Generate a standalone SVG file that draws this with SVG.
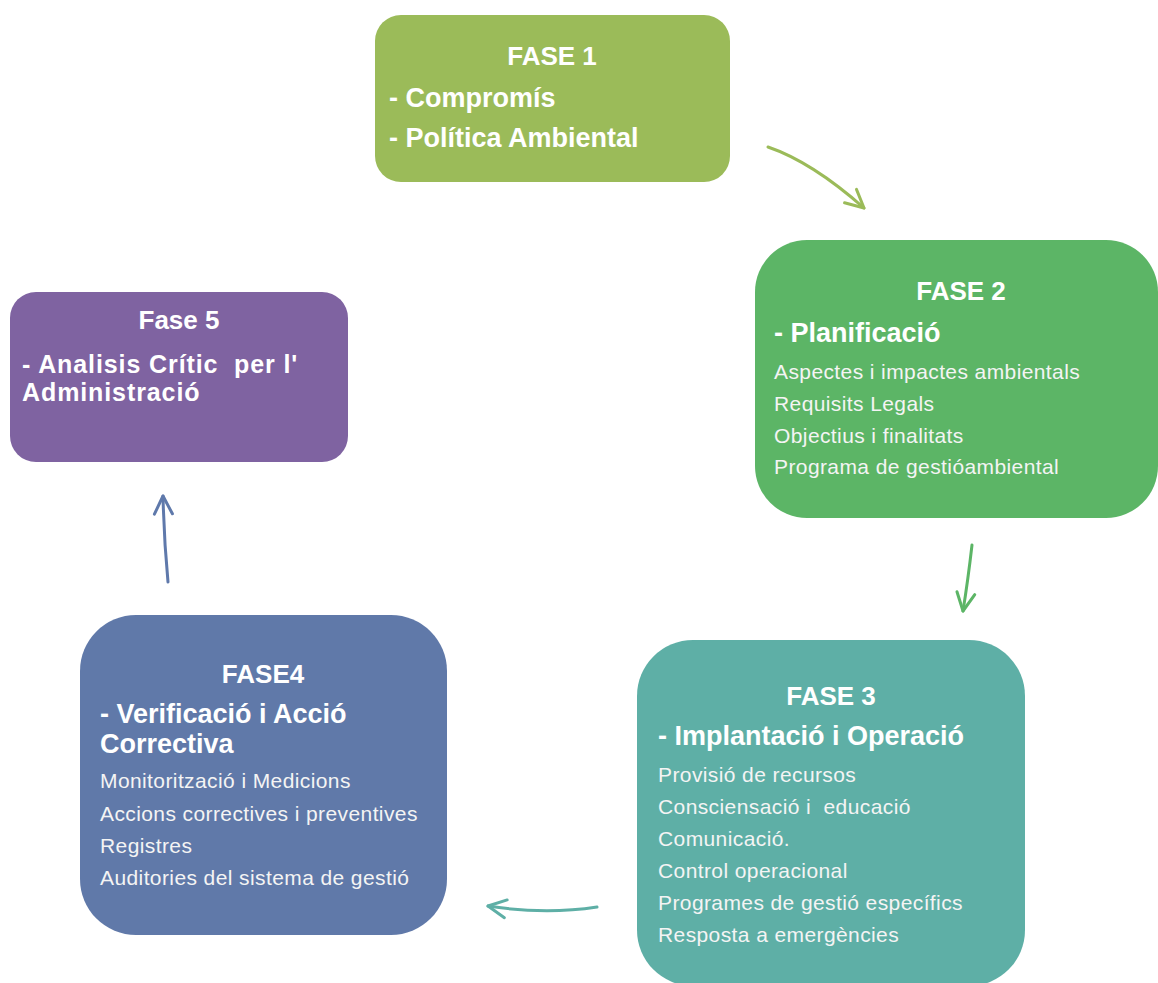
<svg xmlns="http://www.w3.org/2000/svg" width="1158" height="983" viewBox="0 0 1158 983">
  <style>
    text { font-family: "Liberation Sans", Arial, sans-serif; fill: #ffffff; white-space: pre; }
    .title { font-size: 26px; font-weight: bold; text-anchor: middle; }
    .head { font-size: 27px; font-weight: bold; }
    .head-tight { font-size: 25px; font-weight: bold; letter-spacing: 0.9px; }
    .item { font-size: 21px; letter-spacing: 0.4px; fill: #f4f4f4; }
    .arrow { fill: none; stroke-width: 3; stroke-linecap: round; }
    .chev { fill: none; stroke-width: 3; stroke-linecap: round; stroke-linejoin: round; }
  </style>
  <defs>
    <marker id="head-lime" markerUnits="userSpaceOnUse" viewBox="-24 -14 30 28" markerWidth="30" markerHeight="28" refX="0" refY="0" orient="auto" overflow="visible">
      <path class="chev" d="M-18,-9 L0,0 L-18,9" stroke="#9bbb59"/>
    </marker>
    <marker id="head-green" markerUnits="userSpaceOnUse" viewBox="-24 -14 30 28" markerWidth="30" markerHeight="28" refX="0" refY="0" orient="auto" overflow="visible">
      <path class="chev" d="M-18,-9 L0,0 L-18,9" stroke="#5cb566"/>
    </marker>
    <marker id="head-teal" markerUnits="userSpaceOnUse" viewBox="-24 -14 30 28" markerWidth="30" markerHeight="28" refX="0" refY="0" orient="auto" overflow="visible">
      <path class="chev" d="M-18,-9 L0,0 L-18,9" stroke="#5eafa6"/>
    </marker>
    <marker id="head-blue" markerUnits="userSpaceOnUse" viewBox="-24 -14 30 28" markerWidth="30" markerHeight="28" refX="0" refY="0" orient="auto" overflow="visible">
      <path class="chev" d="M-18,-9 L0,0 L-18,9" stroke="#5f79ab"/>
    </marker>
  </defs>

  <rect width="1158" height="983" fill="#ffffff"/>

  <!-- connectors -->
  <g id="connectors">
    <path class="arrow" stroke="#9bbb59" d="M768,147 Q812,162 864,208" marker-end="url(#head-lime)"/>
    <path class="arrow" stroke="#5cb566" d="M972,545 Q968,580 963,611" marker-end="url(#head-green)"/>
    <path class="arrow" stroke="#5eafa6" d="M597,907 Q545,915 488,906" marker-end="url(#head-teal)"/>
    <path class="arrow" stroke="#5f79ab" d="M168,582 Q164,540 163,496" marker-end="url(#head-blue)"/>
  </g>

  <!-- phase 1 -->
  <g id="fase1">
    <rect x="375" y="15" width="355" height="167" rx="26" ry="26" fill="#9bbb59"/>
    <text class="title" x="552" y="65">FASE 1</text>
    <text class="head" x="389" y="107">- Compromís</text>
    <text class="head" x="389" y="147">- Política Ambiental</text>
  </g>

  <!-- phase 2 -->
  <g id="fase2">
    <rect x="755" y="240" width="403" height="278" rx="52" ry="52" fill="#5cb566"/>
    <text class="title" x="961" y="300">FASE 2</text>
    <text class="head" x="774" y="342">- Planificació</text>
    <text class="item" x="774" y="379">Aspectes i impactes ambientals</text>
    <text class="item" x="774" y="411">Requisits Legals</text>
    <text class="item" x="774" y="443">Objectius i finalitats</text>
    <text class="item" x="774" y="474">Programa de gestióambiental</text>
  </g>

  <!-- phase 3 -->
  <g id="fase3">
    <rect x="637" y="640" width="388" height="346" rx="56" ry="56" fill="#5eafa6"/>
    <text class="title" x="831" y="705">FASE 3</text>
    <text class="head" x="658" y="745">- Implantació i Operació</text>
    <text class="item" x="658" y="782">Provisió de recursos</text>
    <text class="item" x="658" y="814" xml:space="preserve">Consciensació i  educació</text>
    <text class="item" x="658" y="846">Comunicació.</text>
    <text class="item" x="658" y="878">Control operacional</text>
    <text class="item" x="658" y="910">Programes de gestió específics</text>
    <text class="item" x="658" y="942">Resposta a emergències</text>
  </g>

  <!-- phase 4 -->
  <g id="fase4">
    <rect x="80" y="615" width="367" height="320" rx="56" ry="56" fill="#6079a9"/>
    <text class="title" x="263" y="683">FASE4</text>
    <text class="head" x="100" y="723">- Verificació i Acció</text>
    <text class="head" x="100" y="753">Correctiva</text>
    <text class="item" x="100" y="788">Monitorització i Medicions</text>
    <text class="item" x="100" y="821">Accions correctives i preventives</text>
    <text class="item" x="100" y="853">Registres</text>
    <text class="item" x="100" y="885">Auditories del sistema de gestió</text>
  </g>

  <!-- phase 5: heading wraps onto two tight lines -->
  <g id="fase5">
    <rect x="10" y="292" width="338" height="170" rx="26" ry="26" fill="#7f63a1"/>
    <text class="title" x="179" y="329">Fase 5</text>
    <text class="head-tight" x="22" y="373" xml:space="preserve">- Analisis Crític  per l'</text>
    <text class="head-tight" x="22" y="401">Administració</text>
  </g>
</svg>
